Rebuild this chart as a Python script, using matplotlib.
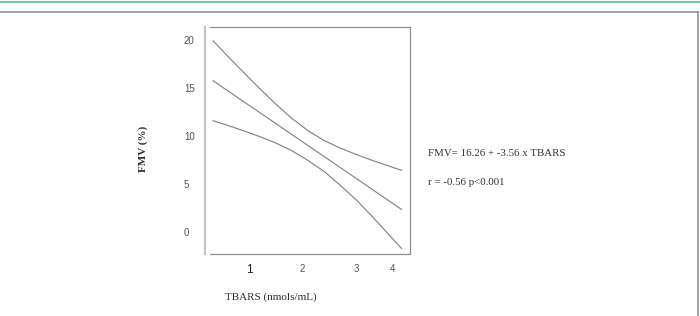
import matplotlib
matplotlib.use("Agg")
import matplotlib.pyplot as plt
from matplotlib.lines import Line2D

# ---- data ----
tbars = [0.34, 0.6, 0.9, 1.2, 1.5, 1.8, 2.1, 2.4, 2.7, 3.0, 3.3, 3.6, 3.83]
fmv_fit = [15.76, 14.76, 13.61, 12.46, 11.31, 10.15, 9.00, 7.85, 6.70, 5.55, 4.39, 3.24, 2.36]
fmv_upper = [19.92, 18.39, 16.66, 14.97, 13.34, 11.83, 10.55, 9.53, 8.73, 8.06, 7.44, 6.87, 6.43]
fmv_lower = [11.60, 11.13, 10.56, 9.95, 9.28, 8.47, 7.45, 6.30, 4.85, 3.30, 1.55, -0.30, -1.71]

y_ticks = [0, 5, 10, 15, 20]
x_tick_pos = [1.02, 2.0, 3.0, 3.67]
x_tick_labels = ["1", "2", "3", "4"]

equation = "FMV= 16.26 + -3.56 x TBARS"
corr = "r = -0.56 p<0.001"

W, H = 700, 316
fig = plt.figure(figsize=(W / 100, H / 100), dpi=100)

# decorative frame lines
fig.add_artist(Line2D([0, 1], [1 - 2 / H, 1 - 2 / H], transform=fig.transFigure,
                      color="#78c4ae", lw=1.6))
fig.add_artist(Line2D([0, 697.5 / W], [1 - 11.5 / H, 1 - 11.5 / H], transform=fig.transFigure,
                      color="#8a8a8a", lw=1.1))
fig.add_artist(Line2D([697.5 / W, 697.5 / W], [0, 1 - 11.5 / H], transform=fig.transFigure,
                      color="#8a8a8a", lw=1.1))

ax = fig.add_axes([209.5 / W, 1 - 254 / H, 200 / W, (254 - 26.7) / H])
line_kw = dict(color="#858585", lw=0.85)
ax.plot(tbars, fmv_upper, **line_kw)
ax.plot(tbars, fmv_fit, **line_kw)
ax.plot(tbars, fmv_lower, **line_kw)

ax.set_xlim(0.274, 3.978)
ax.set_ylim(-2.29, 21.39)

for s in ["top", "right", "bottom"]:
    ax.spines[s].set_color("#909090")
    ax.spines[s].set_linewidth(0.9)
ax.spines["left"].set_color("#c4c4c4")
ax.spines["left"].set_linewidth(1.6)
ax.spines["left"].set_position(("outward", 2.9))

ax.set_yticks(y_ticks)
ax.set_yticklabels([str(v) for v in y_ticks], fontsize=7, color="#505050",
                   family="Liberation Sans", ha="left")
ax.tick_params(axis="y", length=0, pad=15.5)

ax.set_xticks(x_tick_pos)
ax.set_xticklabels(x_tick_labels, fontsize=7, color="#505050", family="Liberation Sans")
ax.get_xticklabels()[0].set_fontsize(8.5)
ax.get_xticklabels()[0].set_color("#202020")
ax.tick_params(axis="x", length=0, pad=7)

fig.text(270.8 / W, 1 - 296.7 / H, "TBARS (nmols/mL)", family="Liberation Serif",
         fontsize=8, color="#303030", ha="center", va="center")
fig.text(143 / W, 1 - 149 / H, "FMV (%)", family="Liberation Serif", fontweight="bold",
         fontsize=8, color="#303030", ha="center", va="center", rotation=90)

fig.text(428 / W, 1 - 153.3 / H, equation, family="Liberation Serif",
         fontsize=7.8, color="#303030", ha="left", va="center")
fig.text(428 / W, 1 - 182.7 / H, corr, family="Liberation Serif",
         fontsize=7.8, color="#303030", ha="left", va="center")

fig.savefig("out.png", dpi=100)
